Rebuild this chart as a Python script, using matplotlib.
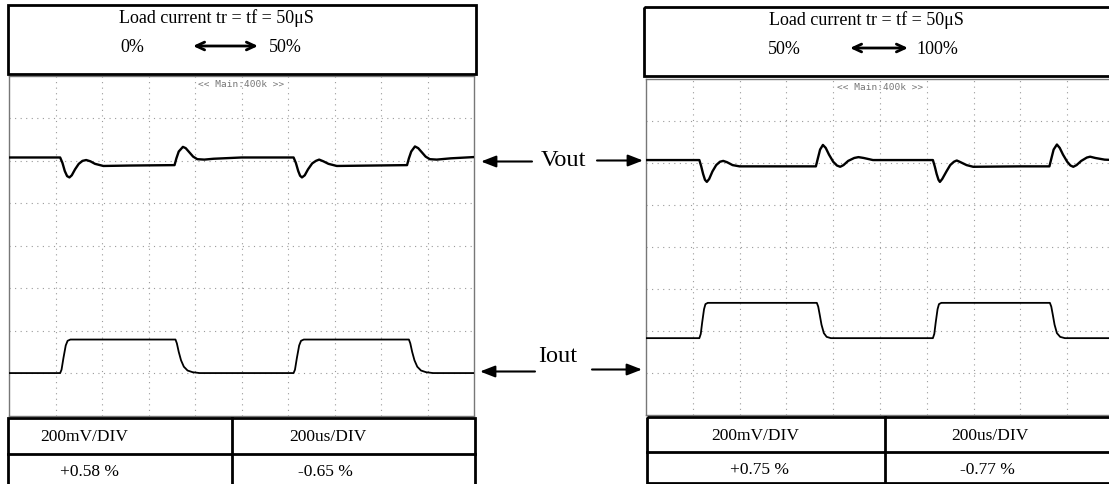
import matplotlib
matplotlib.use("Agg")
import matplotlib.pyplot as plt
from matplotlib.patches import Rectangle

W, H = 1109, 485
SERIF = "Liberation Serif"

# scope traces: time in divisions (200us/div), level in divisions from bottom
vout_a_t = [0, 1.10, 1.15, 1.20, 1.25, 1.30, 1.35, 1.42, 1.50, 1.58, 1.66, 1.75, 1.85, 2.03,
            2.6, 3.56, 3.60, 3.65, 3.74, 3.80, 3.88, 3.96, 4.05, 4.20, 4.40, 5.00,
            6.12, 6.17, 6.22, 6.26, 6.30, 6.36, 6.43, 6.52, 6.60, 6.67, 6.76, 6.87, 7.05, 7.8,
            8.56, 8.60, 8.65, 8.73, 8.80, 8.88, 8.96, 9.05, 9.20, 9.50, 10.0]
vout_a_v = [6.08, 6.08, 5.95, 5.76, 5.64, 5.61, 5.66, 5.80, 5.93, 6.00, 6.02, 5.99, 5.93, 5.88,
            5.89, 5.90, 6.06, 6.22, 6.33, 6.30, 6.20, 6.10, 6.04, 6.03, 6.05, 6.08,
            6.08, 5.95, 5.76, 5.65, 5.61, 5.66, 5.80, 5.94, 6.00, 6.03, 5.99, 5.93, 5.88, 5.89,
            5.90, 6.06, 6.22, 6.34, 6.30, 6.20, 6.10, 6.04, 6.03, 6.06, 6.09]
iout_a_t = [0, 1.10, 1.13, 1.17, 1.22, 1.26, 1.32, 3.58, 3.61, 3.65, 3.70, 3.76, 3.84, 3.95,
            4.10, 6.12, 6.15, 6.19, 6.24, 6.28, 6.34, 8.60, 8.63, 8.67, 8.72, 8.78, 8.86, 8.97,
            9.12, 10.0]
iout_a_v = [1.00, 1.00, 1.08, 1.35, 1.65, 1.76, 1.79, 1.79, 1.70, 1.50, 1.30, 1.15, 1.06, 1.02,
            1.00, 1.00, 1.08, 1.35, 1.65, 1.76, 1.79, 1.79, 1.70, 1.50, 1.30, 1.15, 1.06, 1.02,
            1.00, 1.00]

vout_b_t = [0, 1.14, 1.18, 1.22, 1.26, 1.30, 1.35, 1.42, 1.50, 1.58, 1.65, 1.73, 1.85, 2.00,
            3.00, 3.63, 3.67, 3.72, 3.78, 3.84, 3.91, 4.00, 4.08, 4.15, 4.22, 4.32, 4.45,
            4.54, 4.65, 4.85, 6.13, 6.17, 6.21, 6.25, 6.28, 6.33, 6.42, 6.50, 6.58, 6.64,
            6.72, 6.85, 6.99, 8.00, 8.62, 8.66, 8.71, 8.78, 8.84, 8.91, 9.00, 9.07, 9.13,
            9.20, 9.30, 9.42, 9.49, 9.60, 9.80, 10.0]
vout_b_v = [6.07, 6.07, 5.92, 5.74, 5.60, 5.55, 5.62, 5.80, 5.95, 6.03, 6.05, 6.02, 5.95, 5.92,
            5.92, 5.92, 6.10, 6.32, 6.43, 6.36, 6.20, 6.03, 5.94, 5.91, 5.95, 6.05, 6.12,
            6.14, 6.12, 6.07, 6.07, 5.92, 5.74, 5.60, 5.55, 5.62, 5.80, 5.95, 6.03, 6.06,
            6.02, 5.95, 5.91, 5.92, 5.92, 6.10, 6.32, 6.44, 6.36, 6.20, 6.03, 5.94, 5.91,
            5.95, 6.05, 6.13, 6.15, 6.12, 6.08, 6.07]
iout_b_t = [0, 1.14, 1.17, 1.20, 1.24, 1.27, 1.32, 3.65, 3.68, 3.71, 3.75, 3.80, 3.86, 3.95,
            6.13, 6.16, 6.19, 6.23, 6.26, 6.31, 8.63, 8.66, 8.69, 8.73, 8.78, 8.85, 8.95, 10.0]
iout_b_v = [1.83, 1.83, 1.93, 2.20, 2.52, 2.64, 2.67, 2.67, 2.58, 2.40, 2.15, 1.95, 1.86, 1.83,
            1.83, 1.93, 2.20, 2.52, 2.64, 2.67, 2.67, 2.58, 2.40, 2.15, 1.95, 1.86, 1.83, 1.83]

# header / table text
header_title = "Load current tr = tf = 50\u03bcS"
steps = [("0%", "50%"), ("50%", "100%")]
volt_div = "200mV/DIV"
time_div = "200us/DIV"
overshoot = ["+0.58 %", "+0.75 %"]
undershoot = ["-0.65 %", "-0.77 %"]

fig = plt.figure(figsize=(W / 100, H / 100), dpi=100)


def px_rect(x0, y0, x1, y1):
    return [x0 / W, 1 - y1 / H, (x1 - x0) / W, (y1 - y0) / H]


def scope(rect, vt, vv, it, iv):
    ax = fig.add_axes(rect)
    ax.set_xlim(0, 10)
    ax.set_ylim(0, 8)
    for x in range(1, 10):
        ax.axvline(x, color="#9a9a9a", lw=0.8, ls=(0, (1, 4)), zorder=1)
    for y in range(1, 8):
        ax.axhline(y, color="#9a9a9a", lw=0.8, ls=(0, (1, 4)), zorder=1)
    ax.plot(vt, vv, color="black", lw=1.7, zorder=3)
    ax.plot(it, iv, color="black", lw=1.3, zorder=3)
    ax.text(5, 7.93, "<< Main:400k >>", ha="center", va="top", fontsize=6.8,
            family="DejaVu Sans Mono", color="#777777")
    ax.set_xticks([])
    ax.set_yticks([])
    for s in ax.spines.values():
        s.set_color("#777777")
        s.set_linewidth(1.0)
    return ax


scope(px_rect(9, 77, 474, 416.5), vout_a_t, vout_a_v, iout_a_t, iout_a_v)
scope(px_rect(646, 80, 1114, 416), vout_b_t, vout_b_v, iout_b_t, iout_b_v)

# overlay in pixel coordinates for boxes, tables and labels
ov = fig.add_axes([0, 0, 1, 1], zorder=5)
ov.set_xlim(0, W)
ov.set_ylim(H, 0)
ov.axis("off")
ov.patch.set_alpha(0)

# header boxes
for (x0, y0, x1, y1), cx, (lo, hi), lox, arr, hix in [
    ((7.5, 6, 475.5, 74.5), 216, steps[0], 132, (193, 258), 285),
    ((644, 8, 1120, 77), 866, steps[1], 784, (850, 908), 937),
]:
    ov.add_patch(Rectangle((x0, y0), x1 - x0, y1 - y0, fill=False, ec="black", lw=2))
    ov.text(cx, 18 + y0 - 6, header_title, ha="center", va="center", fontsize=13, family=SERIF)
    ov.text(lox, 47 + y0 - 6, lo, ha="center", va="center", fontsize=13, family=SERIF)
    ov.text(hix, 47 + y0 - 6, hi, ha="center", va="center", fontsize=13, family=SERIF)
    ov.annotate("", xy=(arr[0], 47 + y0 - 6), xytext=(arr[1], 47 + y0 - 6),
                arrowprops=dict(arrowstyle="<->,head_length=0.6,head_width=0.28",
                                color="black", lw=2, shrinkA=0, shrinkB=0))

# tables
for (x0, x1, xm, y0, ym, y1), c1, c2, ov_txt, un_txt in [
    ((7.5, 475, 231.7, 418.5, 454.5, 486), 84, 328, overshoot[0], undershoot[0]),
    ((646.5, 1120, 884.5, 417.5, 452.5, 484), 755, 990, overshoot[1], undershoot[1]),
]:
    ov.add_patch(Rectangle((x0, y0), x1 - x0, y1 - y0, fill=False, ec="black", lw=2))
    ov.plot([x0, x1], [ym, ym], color="black", lw=2)
    ov.plot([xm, xm], [y0, y1], color="black", lw=2)
    ov.text(c1, (y0 + ym) / 2 + 1, volt_div, ha="center", va="center", fontsize=12.5, family=SERIF)
    ov.text(c2, (y0 + ym) / 2 + 1, time_div, ha="center", va="center", fontsize=12.5, family=SERIF)
    ov.text(c1 + 5, (ym + y1) / 2 + 2, ov_txt, ha="center", va="center", fontsize=12.5, family=SERIF)
    ov.text(c2 - 3, (ym + y1) / 2 + 2, un_txt, ha="center", va="center", fontsize=12.5, family=SERIF)

# channel labels between the two scopes
arrow_kw = dict(arrowstyle="-|>,head_length=0.9,head_width=0.35", color="black", lw=1.5,
                shrinkA=0, shrinkB=0)
ov.text(563, 161, "Vout", ha="center", va="center", fontsize=17.5, family=SERIF)
ov.annotate("", xy=(481, 162.5), xytext=(532, 162.5), arrowprops=arrow_kw)
ov.annotate("", xy=(643, 161.5), xytext=(597, 161.5), arrowprops=arrow_kw)
ov.text(558, 357, "Iout", ha="center", va="center", fontsize=17.5, family=SERIF)
ov.annotate("", xy=(480, 372.5), xytext=(535, 372.5), arrowprops=arrow_kw)
ov.annotate("", xy=(642, 370.5), xytext=(592, 370.5), arrowprops=arrow_kw)

fig.savefig("out.png", dpi=100)
